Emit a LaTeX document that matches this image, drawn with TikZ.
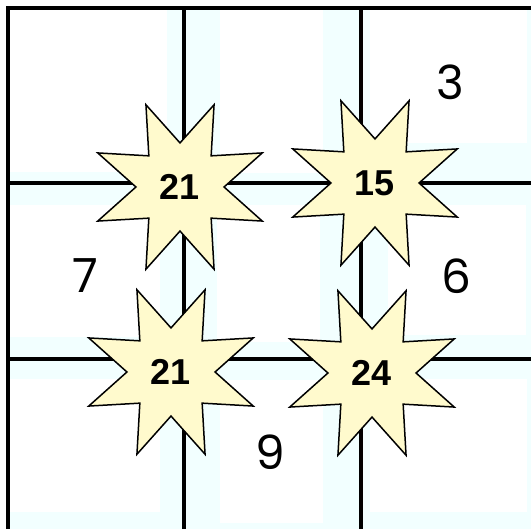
\documentclass[tikz,border=0pt]{standalone}
\usepackage{fontspec}
\setmainfont{Liberation Sans}
\newfontfamily\numfont{Poppins}
\usetikzlibrary{shapes.geometric}
\definecolor{cellbg}{RGB}{242,255,255}
\definecolor{starfill}{RGB}{255,250,205}
\begin{document}
\begin{tikzpicture}[x=1pt,y=-1pt,
  gridline/.style={line width=3.6pt,black},
  burst/.style={star, star points=8, star point ratio=2.02, shape border rotate=22.5,
    minimum size=178pt, inner sep=0pt, draw=black, line width=1.5pt, fill=starfill,
    font=\fontsize{36}{36}\selectfont\bfseries},
  clue/.style={font=\numfont\fontsize{47}{47}\selectfont, inner sep=0pt}]
\useasboundingbox[fill=white] (0,0) rectangle (531,529);
\fill[cellbg] (8,8) rectangle (531,529);
\foreach \a/\b/\c/\d in {8/8/167/172, 220/10/323/173, 370/8/527/143,
  8/205/160/337, 217/205/320/342, 388/205/526/335,
  8/379/160/512, 220/380/323/523, 370/379/527/512}
  \fill[white] (\a,\b) rectangle (\c,\d);
\draw[gridline, line join=miter] (8,529) -- (8,8) -- (531,8);
\draw[gridline] (184,8) -- (184,529);
\draw[gridline] (361,8) -- (361,529);
\draw[gridline] (8,183) -- (531,183);
\draw[gridline] (8,359) -- (531,359);
\node[burst] (s1) at (180,187) {21};
\node[burst] (s2) at (375,183) {15};
\node[burst] (s3) at (171,372) {21};
\node[burst] (s4) at (372,373) {24};
\node[clue] (n3) at (450,82) {3};
\node[clue] (n7) at (85,276) {7};
\node[clue] (n6) at (456,276) {6};
\node[clue] (n9) at (270,452) {9};
\end{tikzpicture}
\end{document}
